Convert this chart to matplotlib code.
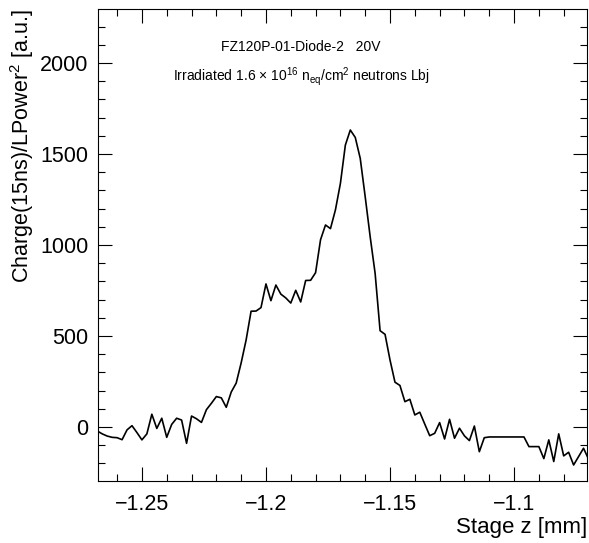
import numpy as np
import matplotlib
matplotlib.use("Agg")
import matplotlib.pyplot as plt
from matplotlib.ticker import MultipleLocator

# stage z positions [mm], 2 um steps
z_start = -1.268
z_step = 0.002
charge = [-22, -38, -50, -57, -59, -70, -16, 7, -31, -71,
          -38, 70, -8, 48, -57, 14, 48, 38, -90, 60,
          45, 25, 95, 130, 167, 160, 108, 192, 241, 352,
          478, 636, 637, 656, 786, 694, 780, 730, 709, 681,
          751, 687, 805, 806, 848, 1029, 1110, 1090, 1193, 1338,
          1549, 1632, 1591, 1476, 1265, 1046, 844, 529, 509, 368,
          246, 228, 139, 152, 66, 81, 16, -48, -35, 24,
          -66, 42, -62, -7, -49, -75, 5, -136, -59, -55,
          -55, -55, -55, -55, -55, -55, -55, -108, -108, -108,
          -174, -71, -190, -38, -159, -139, -209, -163, -117, -176]
z = z_start + z_step*np.arange(len(charge))

title1 = "FZ120P-01-Diode-2   20V"
title2 = r"Irradiated 1.6 $\times$ 10$^{16}$ n$_{eq}$/cm$^{2}$ neutrons Lbj"

plt.rcParams['font.family'] = ['Liberation Sans', 'DejaVu Sans']
plt.rcParams['mathtext.fontset'] = 'custom'
plt.rcParams['mathtext.rm'] = 'Liberation Sans'
plt.rcParams['mathtext.it'] = 'Liberation Sans'
plt.rcParams['mathtext.default'] = 'regular'

fig = plt.figure(figsize=(5.89, 5.43), dpi=100)
ax = fig.add_axes([98/589, 1-481/543, (587-98)/589, (481-9)/543])

ax.plot(z, charge, color='black', lw=1.2)

ax.set_xlim(-1.2677, -1.0706)
ax.set_ylim(-297, 2297)
ax.xaxis.set_major_locator(MultipleLocator(0.05))
ax.xaxis.set_minor_locator(MultipleLocator(0.01))
ax.yaxis.set_major_locator(MultipleLocator(500))
ax.yaxis.set_minor_locator(MultipleLocator(100))
ax.set_xticks([-1.25, -1.2, -1.15, -1.1])
ax.set_xticklabels(["\u22121.25", "\u22121.2", "\u22121.15", "\u22121.1"])
ax.tick_params(which='both', direction='in', top=True, right=True,
               labelsize=15.5, width=0.8)
ax.tick_params(which='major', length=10)
ax.tick_params(which='minor', length=5)
ax.tick_params(axis='x', pad=9)
ax.tick_params(axis='y', pad=7)
for s in ax.spines.values():
    s.set_linewidth(0.8)

ax.set_xlabel("Stage z [mm]", fontsize=16, loc='right', labelpad=2)
ax.set_ylabel(r"Charge(15ns)/LPower$^{2}$ [a.u.]", fontsize=15.5, loc='top',
              labelpad=3)

ax.text(0.415, 0.92, title1, transform=ax.transAxes, ha='center',
        va='center', fontsize=10)
ax.text(0.415, 0.856, title2, transform=ax.transAxes, ha='center',
        va='center', fontsize=10)

fig.savefig("out.png", dpi=100)
